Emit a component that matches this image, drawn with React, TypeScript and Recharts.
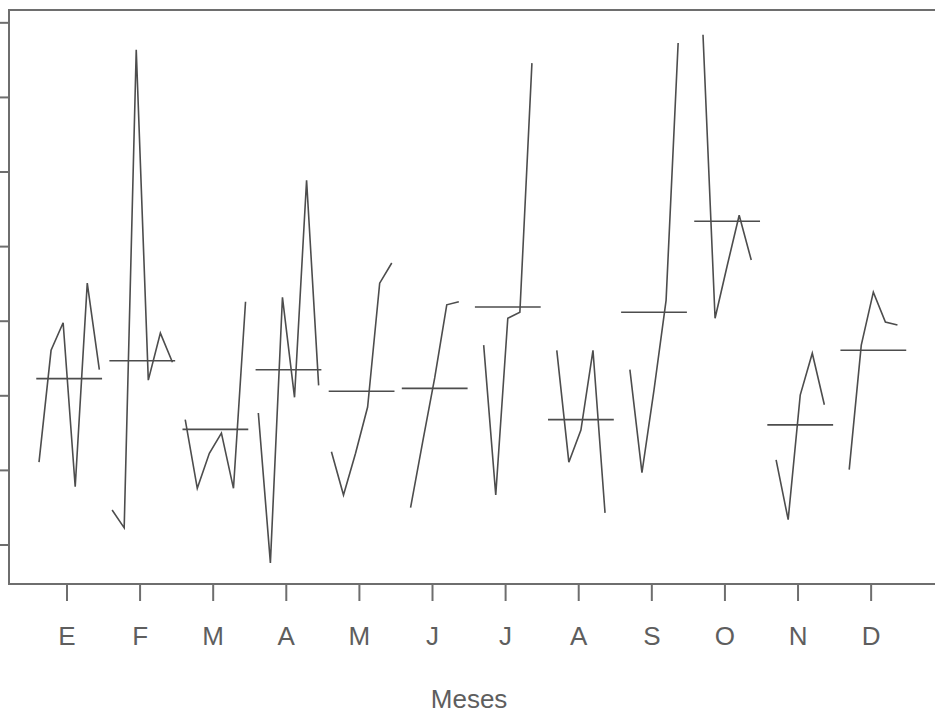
import { LineChart, Line, XAxis, YAxis, ReferenceArea } from "recharts";

// Month initials (Spanish) shown under the axis
const monthLabels = ["E", "F", "M", "A", "M", "J", "J", "A", "S", "O", "N", "D"];
const monthTicks = [1, 2, 3, 4, 5, 6, 7, 8, 9, 10, 11, 12];
const yTicks = [0, 10, 20, 30, 40, 50, 60, 70];

// One sub-series per month, one value per year
const ene = [11.1, 26.1, 29.8, 7.8, 35.1, 23.5];
const feb = [4.7, 2.3, 66.4, 22.1, 28.4, 24.5];
const mar = [16.8, 7.6, 12.3, 15.0, 7.6, 32.6];
const abr = [17.7, -2.4, 33.2, 19.8, 48.9, 21.4];
const may = [12.5, 6.7, 12.3, 18.5, 35.1, 37.8];
const jun = [5.0, 13.8, 22.4, 32.2, 32.6];
const jul = [26.8, 6.7, 30.4, 31.2, 64.6];
const ago = [26.1, 11.1, 15.4, 26.1, 4.3];
const sep = [23.5, 9.7, 20.8, 32.8, 67.3];
const oct = [68.4, 30.4, 37.4, 44.2, 38.2];
const nov = [11.4, 3.4, 20.1, 25.7, 18.8];
const dic = [10.1, 26.8, 33.9, 29.9, 29.5];

// Level of the horizontal reference line for each month
const monthMeans = [22.3, 24.7, 15.5, 23.5, 20.6, 21.0, 31.9, 16.8, 31.2, 43.4, 16.1, 26.1];

const subSeries = [ene, feb, mar, abr, may, jun, jul, ago, sep, oct, nov, dic];

const X_MIN = 0.207;
const X_MAX = 13.79;
const Y_MIN = -5.23;
const Y_MAX = 71.72;
const STEP = 0.165; // spacing between years inside a month
const HALF = 0.45; // half width of the mean segment
const SHIFT = 0.03; // groups sit a touch right of their tick

const FONT = "'Liberation Sans', Arial, Helvetica, sans-serif";
const LINE = "#4d4d4d";
const FRAME = "#6e6e6e";

function toPoints(values: number[], month: number) {
  const mid = (values.length - 1) / 2;
  return values.map((v, k) => ({ x: month + SHIFT + (k - mid) * STEP, v }));
}

function meanSegment(m: number, month: number) {
  return [
    { x: month + SHIFT - HALF, v: m },
    { x: month + SHIFT + HALF, v: m },
  ];
}

function MonthTick(props: any) {
  const { x, y, payload } = props;
  return (
    <text x={x} y={y + 44} textAnchor="middle" fontFamily={FONT} fontSize={26} fill="#5e5e5e">
      {monthLabels[payload.value - 1]}
    </text>
  );
}

function AxisTitle(props: any) {
  const { x, y, width, height } = props.viewBox;
  const cx = x + ((6.5 - X_MIN) / (X_MAX - X_MIN)) * width;
  return (
    <text x={cx} y={y + height - 7} textAnchor="middle" fontFamily={FONT} fontSize={26} fill="#5e5e5e">
      Meses
    </text>
  );
}

export default function App() {
  return (
    <div
      style={{
        position: "fixed",
        left: 0,
        top: 0,
        width: 935,
        height: 715,
        overflow: "hidden",
        background: "#ffffff",
      }}
    >
      <LineChart width={1010} height={715} margin={{ top: 10, right: 8, bottom: 0, left: 0 }}>
        <XAxis
          type="number"
          dataKey="x"
          domain={[X_MIN, X_MAX]}
          ticks={monthTicks}
          allowDataOverflow
          axisLine={false}
          tickLine={{ stroke: FRAME, strokeWidth: 2 }}
          tickSize={17}
          tickMargin={0}
          tick={<MonthTick />}
          height={131}
          interval={0}
          label={(p: any) => <AxisTitle {...p} />}
        />
        <YAxis
          type="number"
          dataKey="v"
          domain={[Y_MIN, Y_MAX]}
          ticks={yTicks}
          allowDataOverflow
          axisLine={false}
          tickLine={{ stroke: FRAME, strokeWidth: 2 }}
          tickSize={9}
          tickFormatter={() => ""}
          width={9}
        />
        <ReferenceArea
          x1={X_MIN}
          x2={X_MAX}
          y1={Y_MIN}
          y2={Y_MAX}
          fill="none"
          fillOpacity={0}
          stroke={FRAME}
          strokeWidth={2}
          ifOverflow="visible"
        />
        {subSeries.map((values, i) => (
          <Line
            key={`s${i}`}
            data={toPoints(values, i + 1)}
            dataKey="v"
            type="linear"
            stroke={LINE}
            strokeWidth={1.6}
            dot={false}
            activeDot={false}
            isAnimationActive={false}
          />
        ))}
        {monthMeans.map((m, i) => (
          <Line
            key={`m${i}`}
            data={meanSegment(m, i + 1)}
            dataKey="v"
            type="linear"
            stroke={LINE}
            strokeWidth={1.6}
            dot={false}
            activeDot={false}
            isAnimationActive={false}
          />
        ))}
      </LineChart>
    </div>
  );
}
